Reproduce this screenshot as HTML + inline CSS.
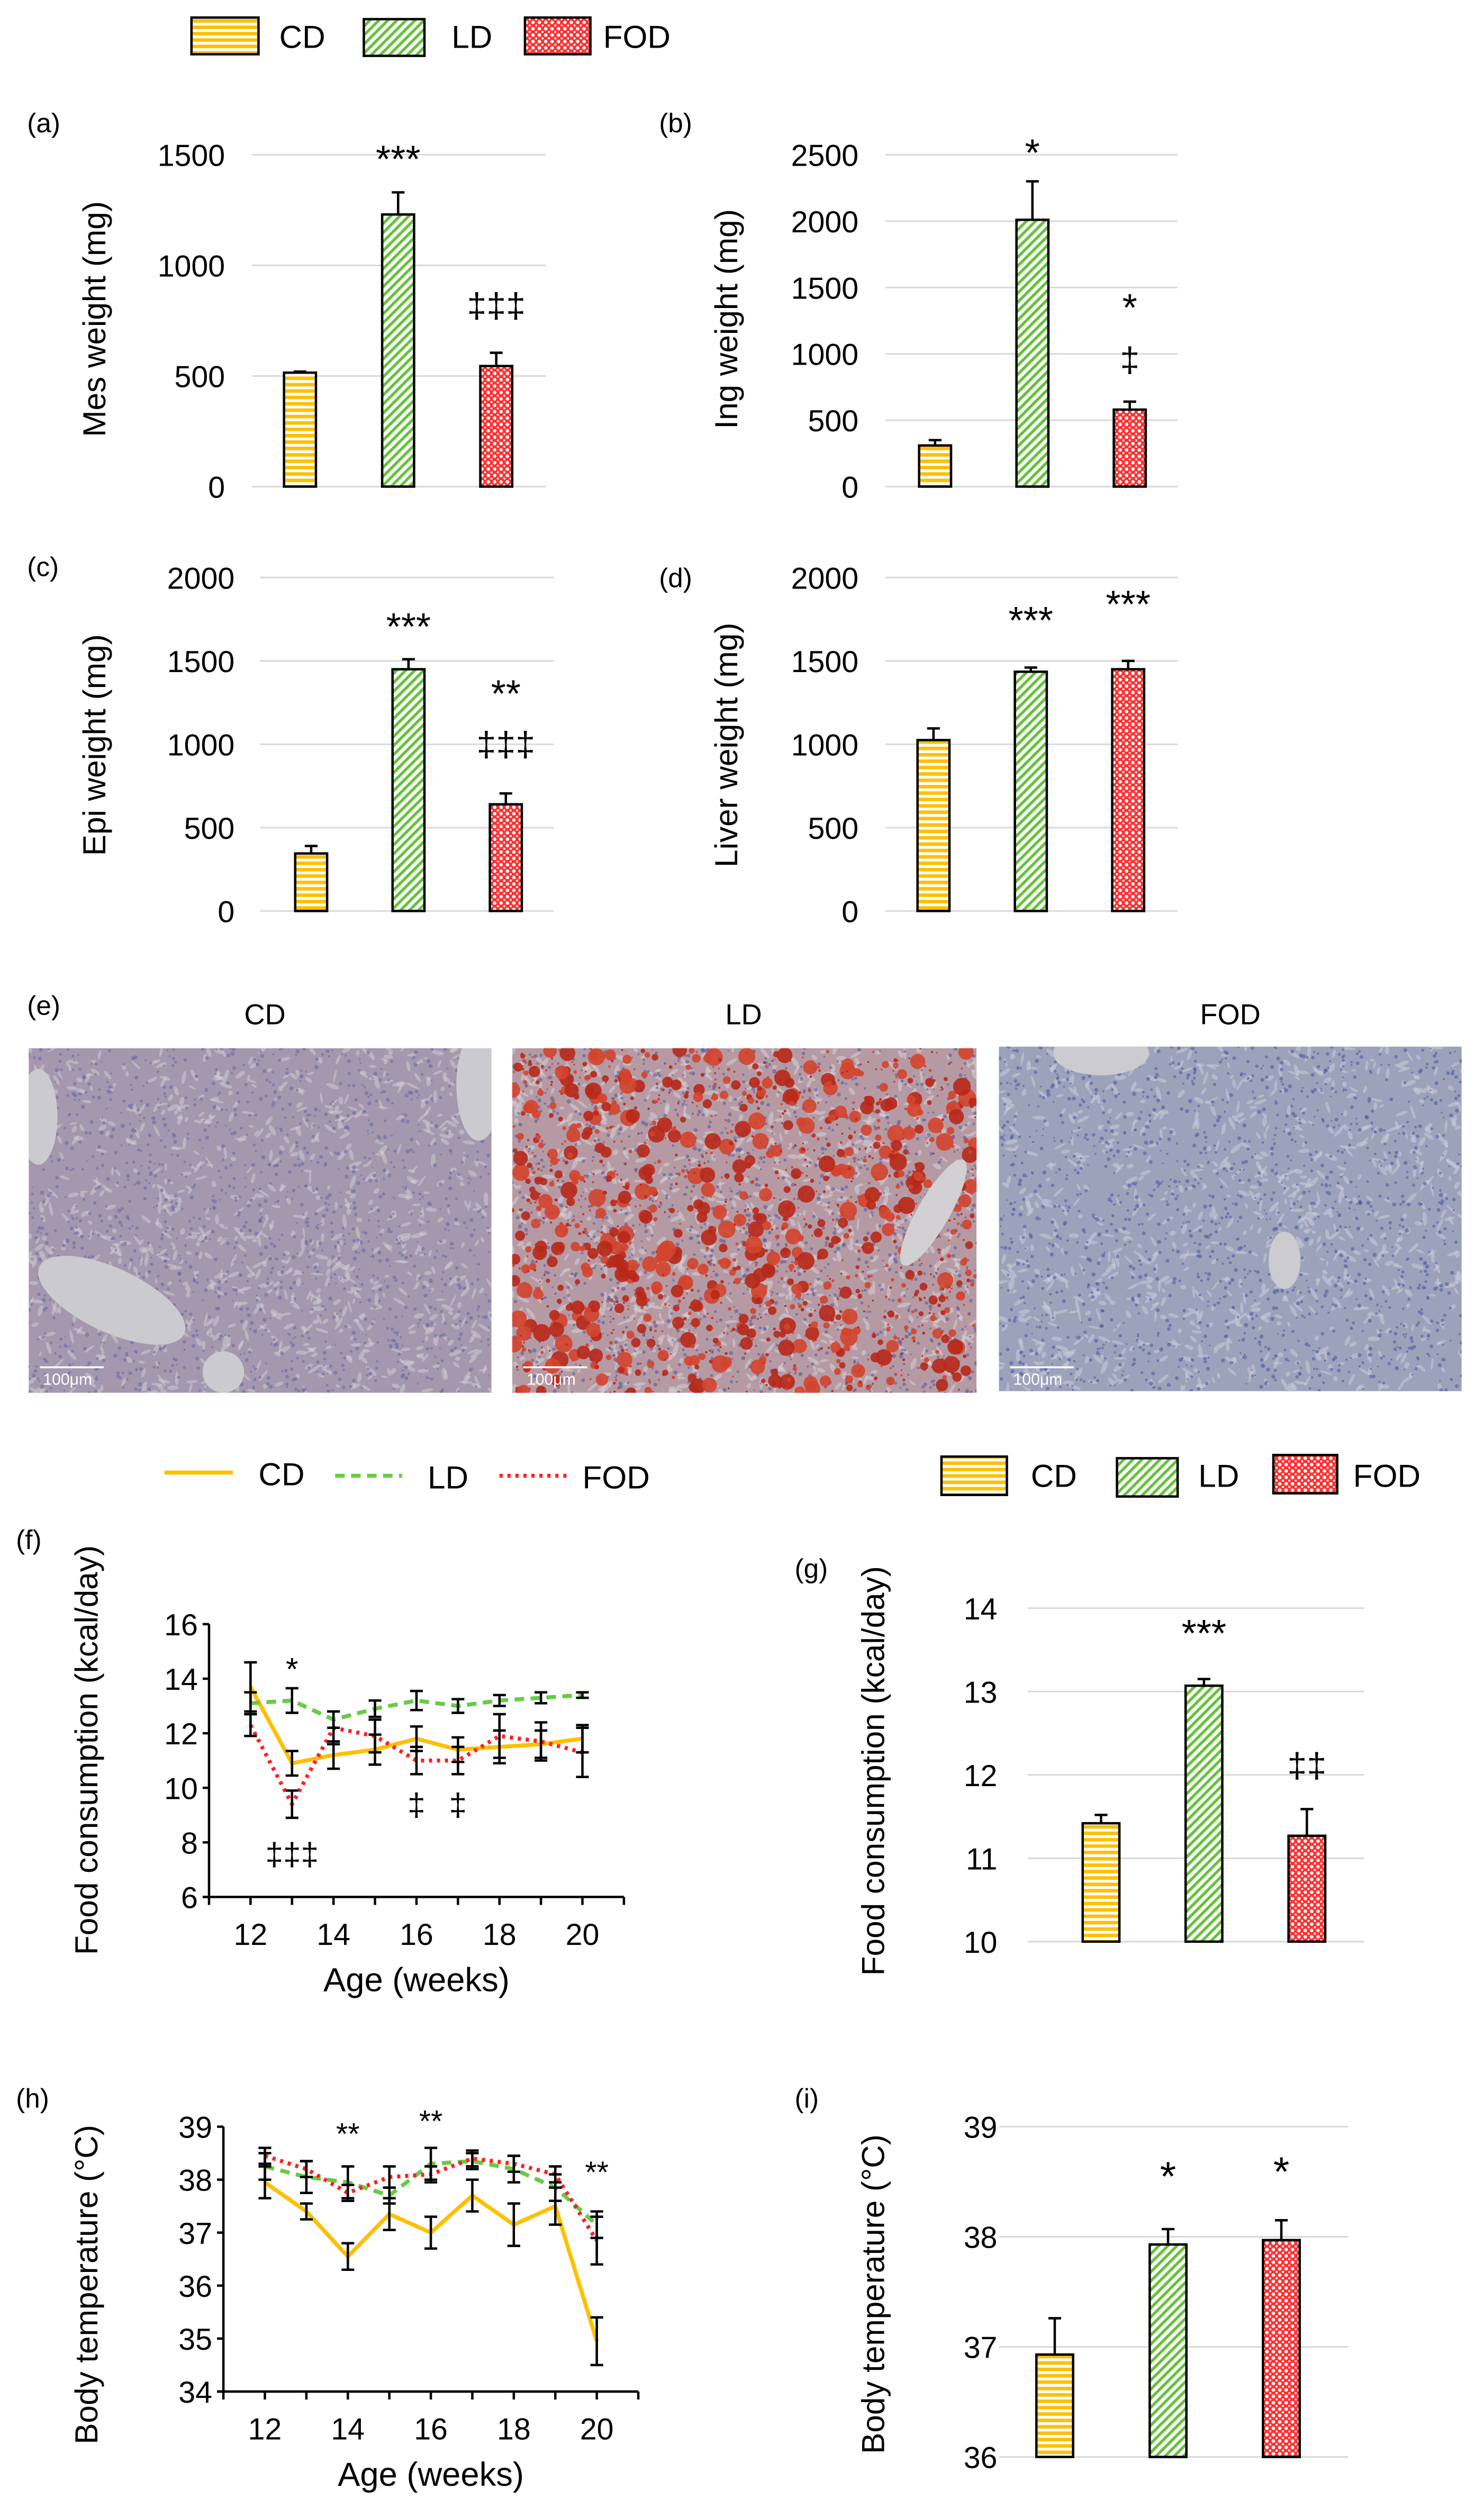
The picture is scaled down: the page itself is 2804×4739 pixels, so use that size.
<!DOCTYPE html>
<html><head><meta charset="utf-8"><style>
html,body{margin:0;padding:0;background:#fff}
svg{display:block}
text{font-family:"Liberation Sans",Arial,sans-serif;fill:#000}
</style></head><body>
<svg id="fig" xmlns="http://www.w3.org/2000/svg" width="2804" height="4739" viewBox="0 0 930 1572" preserveAspectRatio="none">
<defs>
<pattern id="pCD" patternUnits="userSpaceOnUse" width="4" height="4"><rect width="4" height="4" fill="#fff"/><rect width="4" height="2.2" fill="#ffc000"/></pattern>
<pattern id="pLD" patternUnits="userSpaceOnUse" width="4" height="4" patternTransform="rotate(45)"><rect width="4" height="4" fill="#fff"/><rect width="1.8" height="4" fill="#66c23a"/></pattern>
<pattern id="pFOD" patternUnits="userSpaceOnUse" width="4" height="4"><rect width="4" height="4" fill="#ff3030"/><circle cx="2" cy="2" r="1.1" fill="#fff"/><circle cx="0" cy="0" r="0.7" fill="#fff"/><circle cx="4" cy="4" r="0.7" fill="#fff"/><circle cx="4" cy="0" r="0.7" fill="#fff"/><circle cx="0" cy="4" r="0.7" fill="#fff"/></pattern>
<clipPath id="c1"><rect x="18" y="657" width="290" height="216"/></clipPath>
<clipPath id="c2"><rect x="321" y="657" width="291" height="216"/></clipPath>
<clipPath id="c3"><rect x="626" y="656" width="290" height="216"/></clipPath>
</defs>

<g>
<rect x="120" y="11" width="42" height="23" fill="url(#pCD)" stroke="#000" stroke-width="1.5"/><text x="175" y="30" font-size="20">CD</text>
<rect x="228" y="12" width="38" height="23" fill="url(#pLD)" stroke="#000" stroke-width="1.5"/><text x="283" y="30" font-size="20">LD</text>
<rect x="329" y="11" width="41" height="23" fill="url(#pFOD)" stroke="#000" stroke-width="1.5"/><text x="378" y="30" font-size="20">FOD</text>
</g>

<g>
<text x="17" y="636" font-size="17">(e)</text>
<text x="166" y="642" font-size="18" text-anchor="middle">CD</text>
<text x="466" y="642" font-size="18" text-anchor="middle">LD</text>
<text x="771" y="642" font-size="18" text-anchor="middle">FOD</text>
<g id="img1" clip-path="url(#c1)"><rect x="18" y="657" width="290" height="216" fill="#a497ae"/></g>
<g id="img2" clip-path="url(#c2)"><rect x="321" y="657" width="291" height="216" fill="#b59aa4"/></g>
<g id="img3" clip-path="url(#c3)"><rect x="626" y="656" width="290" height="216" fill="#9ca2ba"/></g>
</g>

<g>
<line x1="103" y1="923" x2="146" y2="923" stroke="#ffc000" stroke-width="2.5"/><text x="162" y="931" font-size="20">CD</text>
<line x1="210" y1="925" x2="252" y2="925" stroke="#66cc44" stroke-width="2.5" stroke-dasharray="6,4"/><text x="268" y="933" font-size="20">LD</text>
<line x1="313" y1="925" x2="356" y2="925" stroke="#ff2020" stroke-width="2.5" stroke-dasharray="2,3"/><text x="365" y="933" font-size="20">FOD</text>
</g>
<g>
<rect x="590" y="913" width="41" height="24" fill="url(#pCD)" stroke="#000" stroke-width="1.5"/><text x="646" y="932" font-size="20">CD</text>
<rect x="700" y="914" width="38" height="24" fill="url(#pLD)" stroke="#000" stroke-width="1.5"/><text x="751" y="932" font-size="20">LD</text>
<rect x="798" y="912" width="40" height="24" fill="url(#pFOD)" stroke="#000" stroke-width="1.5"/><text x="848" y="932" font-size="20">FOD</text>
</g>
<g id="charts"></g>
</svg>
<script>
// ---- bar chart data ----
const groups = ["CD","LD","FOD"];
const mesValues = [515, 1230, 545];
const mesErrors = [5, 100, 60];
const mesTicks = [0, 500, 1000, 1500];
const ingValues = [310, 2010, 580];
const ingErrors = [40, 290, 60];
const ingTicks = [0, 500, 1000, 1500, 2000, 2500];
const epiValues = [345, 1450, 640];
const epiErrors = [45, 60, 65];
const epiTicks = [0, 500, 1000, 1500, 2000];
const liverValues = [1025, 1435, 1450];
const liverErrors = [70, 25, 50];
const liverTicks = [0, 500, 1000, 1500, 2000];
const foodBarValues = [11.42, 13.07, 11.27];
const foodBarErrors = [0.1, 0.08, 0.32];
const foodBarTicks = [10, 11, 12, 13, 14];
const tempBarValues = [36.93, 37.93, 37.97];
const tempBarErrors = [0.33, 0.14, 0.18];
const tempBarTicks = [36, 37, 38, 39];
// ---- line chart data ----
const weeks = [12,13,14,15,16,17,18,19,20];
const weekTicks = [12,14,16,18,20];
const foodCD = [13.7,10.9,11.2,11.4,11.8,11.4,11.5,11.6,11.8];
const foodCDErr = [0.9,0.45,0.5,0.55,0.45,0.45,0.6,0.5,0.5];
const foodLD = [13.1,13.2,12.5,12.9,13.2,13.0,13.2,13.3,13.4];
const foodLDErr = [0.4,0.45,0.3,0.3,0.35,0.25,0.2,0.2,0.1];
const foodFOD = [12.3,9.4,12.2,11.9,11.0,11.0,11.9,11.7,11.3];
const foodFODErr = [0.4,0.5,0.6,0.6,0.5,0.5,0.8,0.7,0.9];
const foodTicks = [6,8,10,12,14,16];
const tempCD = [37.95,37.4,36.55,37.35,37.0,37.7,37.15,37.5,34.95];
const tempCDErr = [0.3,0.15,0.25,0.3,0.3,0.3,0.4,0.35,0.45];
const tempLD = [38.25,38.05,37.95,37.7,38.3,38.35,38.2,37.85,37.15];
const tempLDErr = [0.25,0.3,0.3,0.15,0.3,0.15,0.25,0.25,0.25];
const tempFOD = [38.45,38.2,37.75,38.05,38.1,38.4,38.3,38.1,36.85];
const tempFODErr = [0.15,0.15,0.15,0.2,0.15,0.15,0.15,0.15,0.45];
const tempTicks = [34,35,36,37,38,39];

const NS="http://www.w3.org/2000/svg";
const root=document.getElementById('charts');
function mk(tag,attrs,parent,txt){const e=document.createElementNS(NS,tag);for(const k in attrs)e.setAttribute(k,attrs[k]);if(txt!==undefined)e.textContent=txt;(parent||root).appendChild(e);return e;}
const fills=["url(#pCD)","url(#pLD)","url(#pFOD)"];

function barChart(c){
  const g=mk('g',{});
  
  
  const lo=c.ticks[0],hi=c.ticks[c.ticks.length-1];
  const y=v=>c.y0-(v-lo)/(hi-lo)*(c.y0-c.y1);
  const lab=mk('text',{x:c.lx,y:c.ly,'font-size':17},g,c.label);
  
  
  c.ticks.forEach(t=>{
    mk('line',{x1:c.gx0,x2:c.gx1,y1:y(t),y2:y(t),stroke:'#d9d9d9','stroke-width':1},g);
    const tl=mk('text',{x:c.tx,y:y(t)+7,'font-size':19,'text-anchor':'end'},g,String(t));
    
    
  });
  const yt=mk('text',{x:0,y:0,'font-size':20,'text-anchor':'middle',transform:`translate(${c.ytx},${c.yty}) rotate(-90)`},g,c.ytitle);
  
  
  c.values.forEach((v,i)=>{
    const cx=c.cx0+i*c.step;
    const r=mk('rect',{x:cx-c.bw/2,y:y(v),width:c.bw,height:y(lo)-y(v),fill:fills[i],stroke:'#000','stroke-width':1.5},g);
    
    
    const top=y(v+c.errors[i]);
    mk('line',{x1:cx,x2:cx,y1:y(v),y2:top,stroke:'#000','stroke-width':1.5},g);
    mk('line',{x1:cx-4,x2:cx+4,y1:top,y2:top,stroke:'#000','stroke-width':1.5},g);
  });
  (c.ann||[]).forEach(a=>{
    const t=mk('text',{x:c.cx0+a[0]*c.step,y:a[2],'font-size':a[3]||22,'text-anchor':'middle'},g,a[1]);
    
    
  });
}

barChart({name:'panel-a-mes-weight',label:'(a)',lx:17,ly:83,ticks:mesTicks,values:mesValues,errors:mesErrors,y0:305,y1:97,gx0:158,gx1:342,tx:141,ytx:66,yty:200,ytitle:'Mes weight (mg)',cx0:188,step:61.5,bw:20,ann:[[1,'***',108,24],[2,'‡‡‡',199,22]]});
barChart({name:'panel-b-ing-weight',label:'(b)',lx:413,ly:83,ticks:ingTicks,values:ingValues,errors:ingErrors,y0:305,y1:97,gx0:555,gx1:738,tx:538,ytx:462,yty:200,ytitle:'Ing weight (mg)',cx0:586,step:61,bw:20,ann:[[1,'*',104,24],[2,'*',201,24],[2,'‡',233,22]]});
barChart({name:'panel-c-epi-weight',label:'(c)',lx:17,ly:361,ticks:epiTicks,values:epiValues,errors:epiErrors,y0:571,y1:362,gx0:163,gx1:347,tx:147,ytx:66,yty:467,ytitle:'Epi weight (mg)',cx0:195,step:61,bw:20,ann:[[1,'***',401,24],[2,'**',443,24],[2,'‡‡‡',474,22]]});
barChart({name:'panel-d-liver-weight',label:'(d)',lx:413,ly:368,ticks:liverTicks,values:liverValues,errors:liverErrors,y0:571,y1:362,gx0:555,gx1:738,tx:538,ytx:462,yty:467,ytitle:'Liver weight (mg)',cx0:585,step:61,bw:20,ann:[[1,'***',397,24],[2,'***',387,24]]});
barChart({name:'panel-g-food-consumption-bar',label:'(g)',lx:498,ly:989,ticks:foodBarTicks,values:foodBarValues,errors:foodBarErrors,y0:1217,y1:1008,gx0:644,gx1:855,tx:625,ytx:554,yty:1110,ytitle:'Food consumption (kcal/day)',cx0:690,step:64.5,bw:23,ann:[[1,'***',1032,24],[2,'‡‡',1114,22]]});
barChart({name:'panel-i-body-temperature-bar',label:'(i)',lx:498,ly:1321,ticks:tempBarTicks,values:tempBarValues,errors:tempBarErrors,y0:1540,y1:1333,gx0:626,gx1:845,tx:625,ytx:554,yty:1438,ytitle:'Body temperature (°C)',cx0:661,step:71,bw:23,ann:[[1,'*',1373,26],[2,'*',1370,26]]});

function lineChart(c){
  const g=mk('g',{});
  
  
  const lo=c.ticks[0],hi=c.ticks[c.ticks.length-1];
  const y=v=>c.y0-(v-lo)/(hi-lo)*(c.y0-c.y1);
  const x=w=>c.x0+(w-11)*c.dx;
  const lab=mk('text',{x:c.lx,y:c.ly,'font-size':17},g,c.label);
  
  
  mk('line',{x1:c.x0,x2:c.x0,y1:c.y1,y2:c.y0,stroke:'#000','stroke-width':1.5},g);
  mk('line',{x1:c.x0-4,x2:x(21),y1:c.y0,y2:c.y0,stroke:'#000','stroke-width':1.5},g);
  c.ticks.forEach(t=>{
    mk('line',{x1:c.x0-4,x2:c.x0,y1:y(t),y2:y(t),stroke:'#000','stroke-width':1.5},g);
    const tl=mk('text',{x:c.x0-7,y:y(t)+7,'font-size':19,'text-anchor':'end'},g,String(t));
    
    
  });
  for(let w=11;w<=21;w++) mk('line',{x1:x(w),x2:x(w),y1:c.y0,y2:c.y0+5,stroke:'#000','stroke-width':1.5},g);
  weekTicks.forEach(w=>{
    const tl=mk('text',{x:x(w),y:c.y0+30,'font-size':19,'text-anchor':'middle'},g,String(w));
    
    
  });
  const xt=mk('text',{x:x(16),y:c.y0+59,'font-size':21,'text-anchor':'middle'},g,'Age (weeks)');
  
  
  const yt=mk('text',{x:0,y:0,'font-size':20,'text-anchor':'middle',transform:`translate(${c.ytx},${c.yty}) rotate(-90)`},g,c.ytitle);
  
  
  const styles=[{s:'#ffc000',d:''},{s:'#66cc44',d:'6,4'},{s:'#ff2020',d:'2,3'}];
  c.series.forEach((ser,si)=>{
    const pts=ser.v.map((v,i)=>x(weeks[i])+','+y(v)).join(' ');
    const pl=mk('polyline',{points:pts,fill:'none',stroke:styles[si].s,'stroke-width':2.5,'stroke-dasharray':styles[si].d},g);
    
    
  });
  c.series.forEach(ser=>{
    ser.v.forEach((v,i)=>{
      const xx=x(weeks[i]),a=y(v+ser.e[i]),b=y(v-ser.e[i]);
      mk('line',{x1:xx,x2:xx,y1:a,y2:b,stroke:'#000','stroke-width':1.5},g);
      mk('line',{x1:xx-4,x2:xx+4,y1:a,y2:a,stroke:'#000','stroke-width':1.5},g);
      mk('line',{x1:xx-4,x2:xx+4,y1:b,y2:b,stroke:'#000','stroke-width':1.5},g);
    });
  });
  c.ann.forEach(a=>{
    const t=mk('text',{x:x(a[0]),y:a[2],'font-size':a[3]||20,'text-anchor':'middle'},g,a[1]);
    
    
  });
}
lineChart({name:'panel-f-food-consumption-line',label:'(f)',lx:10,ly:971,ticks:foodTicks,y0:1189,y1:1018,x0:131,dx:26,ytx:61,yty:1097,ytitle:'Food consumption (kcal/day)',
  series:[{v:foodCD,e:foodCDErr},{v:foodLD,e:foodLDErr},{v:foodFOD,e:foodFODErr}],
  ann:[[13,'*',1053,20],[13,'‡‡‡',1169,20],[16,'‡',1138,20],[17,'‡',1138,20]]});
lineChart({name:'panel-h-body-temperature-line',label:'(h)',lx:10,ly:1321,ticks:tempTicks,y0:1499,y1:1333,x0:140,dx:26,ytx:61,yty:1432,ytitle:'Body  temperature (°C)',
  series:[{v:tempCD,e:tempCDErr},{v:tempLD,e:tempLDErr},{v:tempFOD,e:tempFODErr}],
  ann:[[14,'**',1344,19],[16,'**',1336,19],[20,'**',1368,19]]});

// ---- decorative histology texture (not chart data) ----
let seed=7;function rnd(){seed=(seed*16807)%2147483647;return seed/2147483647;}
function texture(id,x0,y0,w,h,tint,light,red){
  const g=document.getElementById(id);
  for(let i=0;i<900;i++){
    const cx=x0+rnd()*w,cy=y0+rnd()*h,ang=Math.floor(rnd()*180);
    mk('ellipse',{cx:cx,cy:cy,rx:1.5+rnd()*3,ry:0.7+rnd()*0.8,fill:light,opacity:0.55,transform:`rotate(${ang} ${cx} ${cy})`},g);
  }
  for(let i=0;i<1400;i++){
    mk('circle',{cx:x0+rnd()*w,cy:y0+rnd()*h,r:0.5+rnd()*0.8,fill:tint,opacity:0.6},g);
  }
  if(red){
    for(let i=0;i<1400;i++){
      mk('circle',{cx:x0+rnd()*w,cy:y0+rnd()*h,r:0.6+Math.pow(rnd(),3)*5,fill:rnd()<0.5?'#b82818':'#d4442c',opacity:0.9},g);
    }
  }
}
texture('img1',18,657,290,216,'#6a6aa8','#cfcbd2',false);
mk('ellipse',{cx:70,cy:815,rx:50,ry:20,fill:'#cbcbcf',transform:'rotate(25 70 815)'},document.getElementById('img1'));
mk('circle',{cx:140,cy:860,r:13,fill:'#cbcbcf'},document.getElementById('img1'));
mk('ellipse',{cx:24,cy:700,rx:12,ry:30,fill:'#cbcbcf'},document.getElementById('img1'));
mk('ellipse',{cx:300,cy:680,rx:14,ry:35,fill:'#cbcbcf'},document.getElementById('img1'));
texture('img2',321,657,291,216,'#5a5aa0','#d6d2d6',true);
mk('ellipse',{cx:585,cy:760,rx:10,ry:38,fill:'#d2d0d2',transform:'rotate(30 585 760)'},document.getElementById('img2'));
texture('img3',626,656,290,216,'#4f5ca8','#c8ccd8',false);
mk('ellipse',{cx:690,cy:660,rx:30,ry:14,fill:'#cbcbd0'},document.getElementById('img3'));
mk('ellipse',{cx:805,cy:790,rx:10,ry:18,fill:'#cbcbd0'},document.getElementById('img3'));
[[25,857],[328,857],[633,857]].forEach(p=>{
  const s=document.getElementById('fig');
  mk('line',{x1:p[0],x2:p[0]+40,y1:p[1],y2:p[1],stroke:'#fff','stroke-width':1.2},s);
  const t=mk('text',{x:p[0]+2,y:p[1]+11,'font-size':10,fill:'#fff',style:'fill:#fff'},s,'100μm');
  
  
});
</script>
</body></html>
